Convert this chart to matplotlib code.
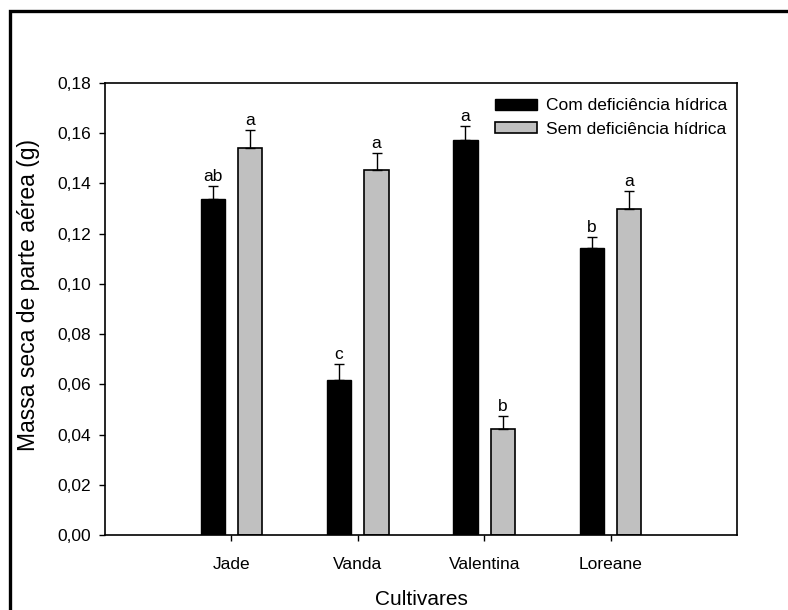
import numpy as np
import matplotlib
matplotlib.use("Agg")
import matplotlib.pyplot as plt
from matplotlib.patches import Rectangle

plt.rcParams['font.family'] = ['Liberation Sans', 'DejaVu Sans']

# data
cultivares = ['Jade', 'Vanda', 'Valentina', 'Loreane']
com_def = [0.1338, 0.0617, 0.1573, 0.1144]
com_err = [0.0053, 0.0063, 0.0057, 0.0044]
sem_def = [0.1540, 0.1454, 0.0421, 0.1298]
sem_err = [0.0073, 0.0069, 0.0054, 0.0072]
letras_com = ['ab', 'c', 'a', 'b']
letras_sem = ['a', 'a', 'b', 'a']
yticks = [0.00, 0.02, 0.04, 0.06, 0.08, 0.10, 0.12, 0.14, 0.16, 0.18]

fig = plt.figure(figsize=(7.88, 6.10), dpi=100)
ax = fig.add_axes([105/788, 1 - 535/610, 632/788, 452/610])

x = np.arange(1, len(cultivares) + 1)
w = 0.19
off = 0.148

ax.bar(x - off, com_def, w, color='black', edgecolor='black', linewidth=1,
       label='Com deficiência hídrica', zorder=2)
ax.bar(x + off, sem_def, w, color='#c0c0c0', edgecolor='black', linewidth=1.2,
       label='Sem deficiência hídrica', zorder=2)
ax.errorbar(x - off, com_def, yerr=[np.zeros(4), com_err], fmt='none',
            ecolor='black', elinewidth=1, capsize=3.8, capthick=1, zorder=3)
ax.errorbar(x + off, sem_def, yerr=[np.zeros(4), sem_err], fmt='none',
            ecolor='black', elinewidth=1, capsize=3.8, capthick=1, zorder=3)

for xi, v, e, t in zip(x - off, com_def, com_err, letras_com):
    ax.text(xi, v + e + 0.0008, t, ha='center', va='bottom', fontsize=12.5)
for xi, v, e, t in zip(x + off, sem_def, sem_err, letras_sem):
    ax.text(xi, v + e + 0.0008, t, ha='center', va='bottom', fontsize=12.5)

ax.set_xlim(0, 5)
ax.set_ylim(0, 0.18)
ax.set_xticks(x)
ax.set_xticklabels(cultivares, fontsize=12.5)
ax.set_yticks(yticks)
ax.set_yticklabels([f'{t:.2f}'.replace('.', ',') for t in yticks], fontsize=12.5)
ax.tick_params(axis='both', direction='out', length=4, width=1, color='black')
ax.tick_params(axis='x', pad=11.5)
ax.tick_params(axis='y', pad=6)
for s in ax.spines.values():
    s.set_linewidth(1.2)

ax.set_xlabel('Cultivares', fontsize=15, labelpad=13)
ax.set_ylabel('Massa seca de parte aérea (g)', fontsize=16.5)
ax.yaxis.set_label_coords(-0.103, 0.53)

ax.legend(loc='upper right', frameon=False, fontsize=12.5, handlelength=2.4,
          handleheight=0.63, handletextpad=0.5, borderpad=0, borderaxespad=0,
          labelspacing=0.47, bbox_to_anchor=(0.984, 0.966))

# outer frame, cut off at right and bottom like the reference
fig.patches.append(Rectangle((9.5/788, -0.1), 1.2, 1 - 11.5/610 + 0.1,
                             transform=fig.transFigure, fill=False,
                             edgecolor='black', linewidth=2.4))

fig.savefig('out.png', dpi=100)
